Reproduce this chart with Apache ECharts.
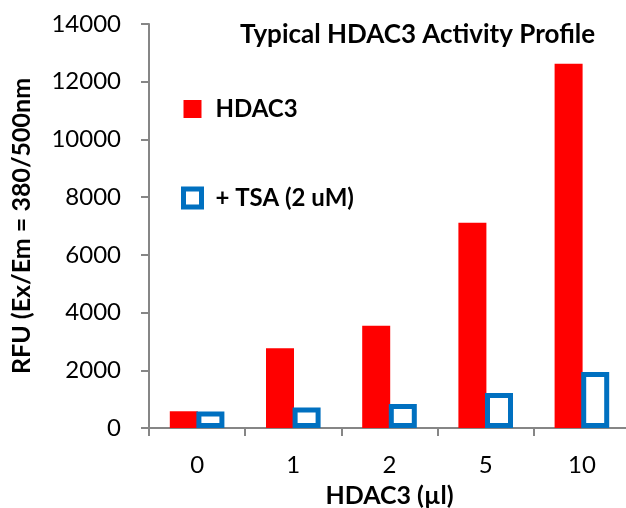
<!DOCTYPE html>
<html>
<head>
<meta charset="utf-8">
<script src="https://cdn.jsdelivr.net/npm/echarts@6/dist/echarts.min.js"></script>
<style>
  html, body { margin: 0; padding: 0; background: #fff; }
  #main { width: 626px; height: 508px; }
</style>
</head>
<body>
<div id="main"></div>
<script>
const categories = ["0", "1", "2", "5", "10"];
const hdac3 = [580, 2760, 3540, 7110, 12620];
const tsa = [570, 710, 830, 1210, 1940];
const yTicks = { min: 0, max: 14000, interval: 2000 };

const FONT = "Lato";
const RED = "#FF0000";
const BLUE = "#0070C0";

let chartDom = document.getElementById("main");
let myChart = echarts.init(chartDom);

let option = {
  animation: false,
  textStyle: { fontFamily: FONT },
  title: {
    text: "Typical HDAC3 Activity Profile",
    left: 235,
    top: 17,
    textStyle: { fontFamily: FONT, fontSize: 26, fontWeight: "bold", color: "#000" }
  },
  legend: {
    orient: "vertical",
    left: 176,
    top: 92,
    itemWidth: 36,
    itemHeight: 18,
    itemGap: 65,
    textStyle: { fontFamily: FONT, fontSize: 24, fontWeight: "bold", color: "#000", lineHeight: 24 },
    data: [
      {
        name: "HDAC3",
        icon: "path://M0,0H18V18H0Z",
        itemStyle: { color: RED, borderWidth: 0 }
      },
      {
        name: "+ TSA (2 uM)",
        icon: "path://M0,0H18V18H0Z",
        itemStyle: { color: "#fff", borderColor: BLUE, borderWidth: 5 }
      }
    ]
  },
  grid: {
    left: 149,
    top: 24,
    width: 481,
    height: 404,
    containLabel: false,
    outerBoundsMode: "none"
  },
  xAxis: {
    type: "category",
    data: categories,
    name: "HDAC3 (\u00b5l)",
    nameLocation: "middle",
    nameGap: 55,
    nameTextStyle: { fontFamily: FONT, fontSize: 25, fontWeight: "bold", color: "#000" },
    axisLine: { lineStyle: { color: "#868686", width: 2 } },
    axisTick: { show: true, length: 8, lineStyle: { color: "#868686", width: 2 } },
    axisLabel: { fontFamily: FONT, fontSize: 24, color: "#000", margin: 25 }
  },
  yAxis: {
    type: "value",
    min: yTicks.min,
    max: yTicks.max,
    interval: yTicks.interval,
    name: "RFU (Ex/Em = 380/500nm",
    nameLocation: "middle",
    nameGap: 115,
    nameRotate: 90,
    nameTextStyle: { fontFamily: FONT, fontSize: 25, fontWeight: "bold", color: "#000" },
    axisLine: { show: true, lineStyle: { color: "#868686", width: 2 } },
    axisTick: { show: true, length: 8, lineStyle: { color: "#868686", width: 2 } },
    axisLabel: {
      fontFamily: FONT,
      fontSize: 24,
      color: "#000",
      margin: 28,
      formatter: function (v) { return String(v); }
    },
    splitLine: { show: false }
  },
  series: [
    {
      name: "HDAC3",
      type: "bar",
      barWidth: 28,
      barGap: "-5%",
      itemStyle: { color: RED },
      data: hdac3
    },
    {
      name: "+ TSA (2 uM)",
      type: "bar",
      barWidth: 28,
      barGap: "-5%",
      itemStyle: { color: "#fff", borderColor: BLUE, borderWidth: 5 },
      data: tsa
    }
  ]
};

option && myChart.setOption(option);
</script>
</body>
</html>
